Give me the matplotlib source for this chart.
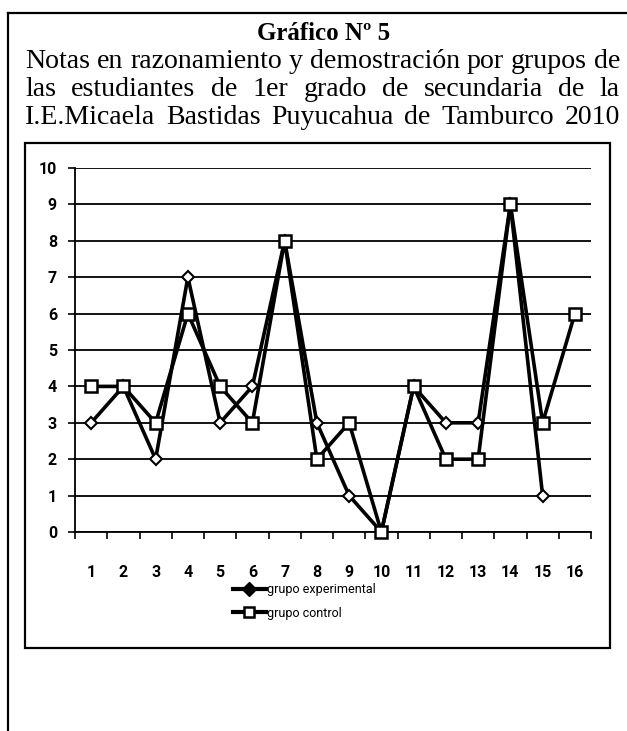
import numpy as np
import matplotlib
matplotlib.use("Agg")
import matplotlib.pyplot as plt
from matplotlib.lines import Line2D
from matplotlib.patches import Rectangle

# data
students = list(range(1, 17))
experimental = [3, 4, 2, 7, 3, 4, 8, 3, 1, 0, 4, 3, 3, 9, 1, np.nan]
control = [4, 4, 3, 6, 4, 3, 8, 2, 3, 0, 4, 2, 2, 9, 3, 6]
y_ticks = list(range(0, 11))

title = "Gráfico Nº 5"
subtitle_lines = [
    "Notas en razonamiento y demostración por grupos de",
    "las estudiantes de 1er grado de secundaria de la",
    "I.E.Micaela Bastidas Puyucahua de Tamburco  2010",
]
legend_labels = ["grupo experimental", "grupo control"]

W, H = 627, 731
fig = plt.figure(figsize=(W / 100, H / 100), dpi=100)
fig.patch.set_facecolor("white")

def fx(px):
    return px / W

def fy(py):
    return 1 - py / H

serif = ["Liberation Serif", "DejaVu Serif"]
sans = ["Roboto", "DejaVu Sans"]

# outer page border (left and top only) and the inner chart box
fig.add_artist(Line2D([fx(8), fx(8)], [fy(13), fy(731)], color="black", lw=1.6))
fig.add_artist(Line2D([fx(8), fx(627)], [fy(13), fy(13)], color="black", lw=1.6))
fig.add_artist(Rectangle((fx(25), fy(648)), fx(610) - fx(25), fy(143) - fy(648),
                         fill=False, edgecolor="black", lw=1.6))

# title
fig.text(fx(324), fy(34), title, ha="center", va="center",
         fontsize=18, fontweight="bold", family=serif)

# subtitle: first line sets the size, the others are justified to its width
renderer = fig.canvas.get_renderer()
x_left, x_right = 25, 620
probe = fig.text(0, 0, subtitle_lines[0], fontsize=16, family=serif)
size = 16 * (x_right - x_left) / probe.get_window_extent(renderer).width
probe.remove()

line_y = [62, 90, 117]
for line, yy in zip(subtitle_lines, line_y):
    words = line.split()
    texts = [fig.text(0, fy(yy), w, ha="left", va="center", fontsize=size, family=serif)
             for w in words]
    widths = [t.get_window_extent(renderer).width for t in texts]
    gap = (x_right - x_left - sum(widths)) / (len(words) - 1)
    x = x_left
    for t, w in zip(texts, widths):
        t.set_x(fx(x))
        x += w + gap

# plot area
ax = fig.add_axes([fx(75), fy(532), fx(591) - fx(75), fy(168) - fy(532)])
ax.plot(students, experimental, color="black", lw=2.6, marker="D", markersize=6,
        markerfacecolor="white", markeredgecolor="black", markeredgewidth=1.5, zorder=3)
ax.plot(students, control, color="black", lw=2.6, marker="s", markersize=9,
        markerfacecolor="white", markeredgecolor="black", markeredgewidth=1.8, zorder=4,
        clip_on=False)

ax.set_xlim(0.5, 16.5)
ax.set_ylim(0, 10)
ax.set_yticks(y_ticks)
ax.yaxis.grid(True, color="black", lw=1.3)
ax.set_axisbelow(True)
ax.set_xticks(students)
ax.set_xticks(np.arange(0.5, 17, 1), minor=True)
ax.tick_params(axis="x", which="major", length=0, pad=24)
ax.tick_params(axis="x", which="minor", length=5, width=1.2, direction="out")
ax.tick_params(axis="y", length=5, width=1.2, pad=8)
for lab in ax.get_xticklabels() + ax.get_yticklabels():
    lab.set_family(sans)
    lab.set_fontweight("bold")
    lab.set_fontsize(11.5)

for side in ["top", "right"]:
    ax.spines[side].set_visible(False)
for side in ["left", "bottom"]:
    ax.spines[side].set_linewidth(1.3)

handles = [
    Line2D([], [], color="black", lw=3, marker="D", markersize=7, markerfacecolor="black"),
    Line2D([], [], color="black", lw=3, marker="s", markersize=7.5,
           markerfacecolor="white", markeredgewidth=1.8),
]
fig.legend(handles=handles, labels=legend_labels, loc="center left",
           bbox_to_anchor=(fx(233), fy(601.5)), frameon=False,
           prop={"family": sans, "size": 9}, handlelength=2.6, handletextpad=0.1,
           borderpad=0, borderaxespad=0, labelspacing=0.8)

fig.savefig("out.png", dpi=100, facecolor="white")
